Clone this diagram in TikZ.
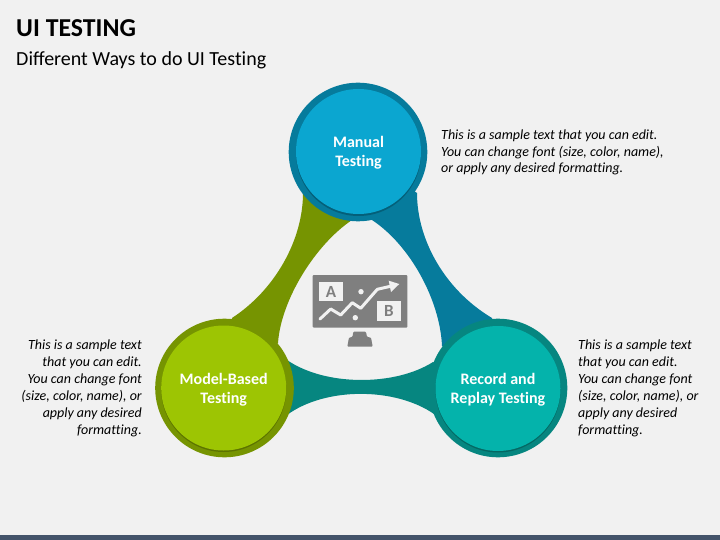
\documentclass[tikz,border=0pt]{standalone}
\usepackage{fontspec}
\setmainfont{Carlito}
\newcommand{\noliga}{\addfontfeatures{Ligatures=NoCommon}}
\definecolor{bgc}{HTML}{F1F1F1}
\definecolor{barc}{HTML}{44546A}
\definecolor{blueout}{HTML}{067B9C}
\definecolor{bluein}{HTML}{0BA6D0}
\definecolor{greenout}{HTML}{769401}
\definecolor{greenin}{HTML}{9DC503}
\definecolor{tealout}{HTML}{068680}
\definecolor{tealin}{HTML}{04B3AB}
\definecolor{iconc}{HTML}{7F7F7F}
\tikzset{
  ring/.style={circle,minimum size=138.6pt,inner sep=0pt},
  disc/.style={circle,minimum size=125pt,inner sep=0pt},
  label/.style={inner sep=0pt,align=center,text=white,
    font=\fontsize{16}{19}\selectfont\bfseries\noliga},
  shade/.style={circle,minimum size=125pt,inner sep=0pt,fill=black,fill opacity=.22},
  note/.style={inner sep=0pt,font=\fontsize{14}{16.9}\selectfont\itshape\noliga,text=black},
  iconbox/.style={fill=bgc,inner sep=0pt,text=iconc,font=\fontsize{17}{17}\selectfont\bfseries,
    minimum width=23.4pt,minimum height=19.4pt}
}
\begin{document}
\begin{tikzpicture}[x=1pt,y=-1pt]
\useasboundingbox (0,0) rectangle (720,540);
\fill[bgc] (0,0) rectangle (720,540);
\fill[barc] (0,535) rectangle (720,540);
% titles
\node[anchor=base west,inner sep=0pt,font=\fontsize{25.8}{26}\selectfont\bfseries] (title) at (16,37) {UI TESTING};
\node[anchor=base west,inner sep=0pt,font=\fontsize{20}{20}\selectfont] (sub) at (16,66) {Different Ways to do UI {\noliga Testing}};
% bands
\fill[greenout] (303,193) .. controls (303,240) and (275,290) .. (232,318) -- (224,388) -- (278,343)
  .. controls (281,300) and (315,245) .. (352,220) -- (358,152) -- cycle;
\fill[blueout] (417,193) .. controls (417,240) and (445,290) .. (492,318) -- (498,388) -- (442,346)
  .. controls (440,300) and (410,245) .. (372,220) -- (358,152) -- cycle;
\fill[tealout] (287,360) .. controls (325,386.3) and (395,386.3) .. (433,362) -- (498,388) -- (434,414)
  .. controls (395,387) and (325,387) .. (287,415) -- (224,388) -- cycle;
% circles
\node[ring,fill=blueout] (mr) at (358,152) {};
\node[ring,fill=greenout] (lr) at (224.5,388) {};
\node[ring,fill=tealout] (rr) at (498,388) {};
\node[shade] at (358.5,153.5) {};
\node[shade] at (223.7,389.5) {};
\node[shade] at (498,390) {};
\node[disc,fill=bluein] (m) at (358.5,151.5) {};
\node[disc,fill=greenin] (l) at (223.7,388) {};
\node[disc,fill=tealin] (r) at (498,388.5) {};
\node[label] (mt) at (358.5,152.5) {Manual\\Testing};
\node[label] (lt) at (223.7,389.5) {Model-Based\\Testing};
\node[label] (rt) at (498,389.5) {Record and\\Replay Testing};
% notes
\node[note,anchor=north west,align=left] (n1) at (441,129.2) {This is a sample text that you can edit.\\You can change font (size, color, name),\\or apply any desired formatting.};
\node[note,anchor=north east,align=right] (n2) at (142,340) {This is a sample text\\that you can edit.\\You can change font\\(size, color, name), or\\apply any desired\\formatting.};
\node[note,anchor=north west,align=left] (n3) at (578,340) {This is a sample text\\that you can edit.\\You can change font\\(size, color, name), or\\apply any desired\\formatting.};
% icon
\fill[iconc,rounded corners=1pt] (312.7,275) rectangle (407.3,327.7);
\node[iconbox] (boxa) at (331,291.7) {A};
\node[iconbox] (boxb) at (389,311) {B};
\fill[bgc] (361,291.7) circle (2.7);
\fill[bgc] (355.3,317.7) circle (2.7);
\draw[bgc,line width=3pt,line cap=round,line join=round] (320,319) -- (330.7,309) -- (340.7,315) -- (352.3,302.7) -- (360.7,308.3) -- (377.3,289.3) -- (391.7,286);
\fill[bgc] (399.3,284) -- (388.7,280.7) -- (391,292) -- cycle;
\fill[iconc,rounded corners=1pt] (353.3,331.7) -- (366,331.7) -- (367,337) -- (371,337.5) -- (372.7,346.7) -- (347.3,346.7) -- (349,337.5) -- (352.5,337) -- cycle;
\end{tikzpicture}
\end{document}
